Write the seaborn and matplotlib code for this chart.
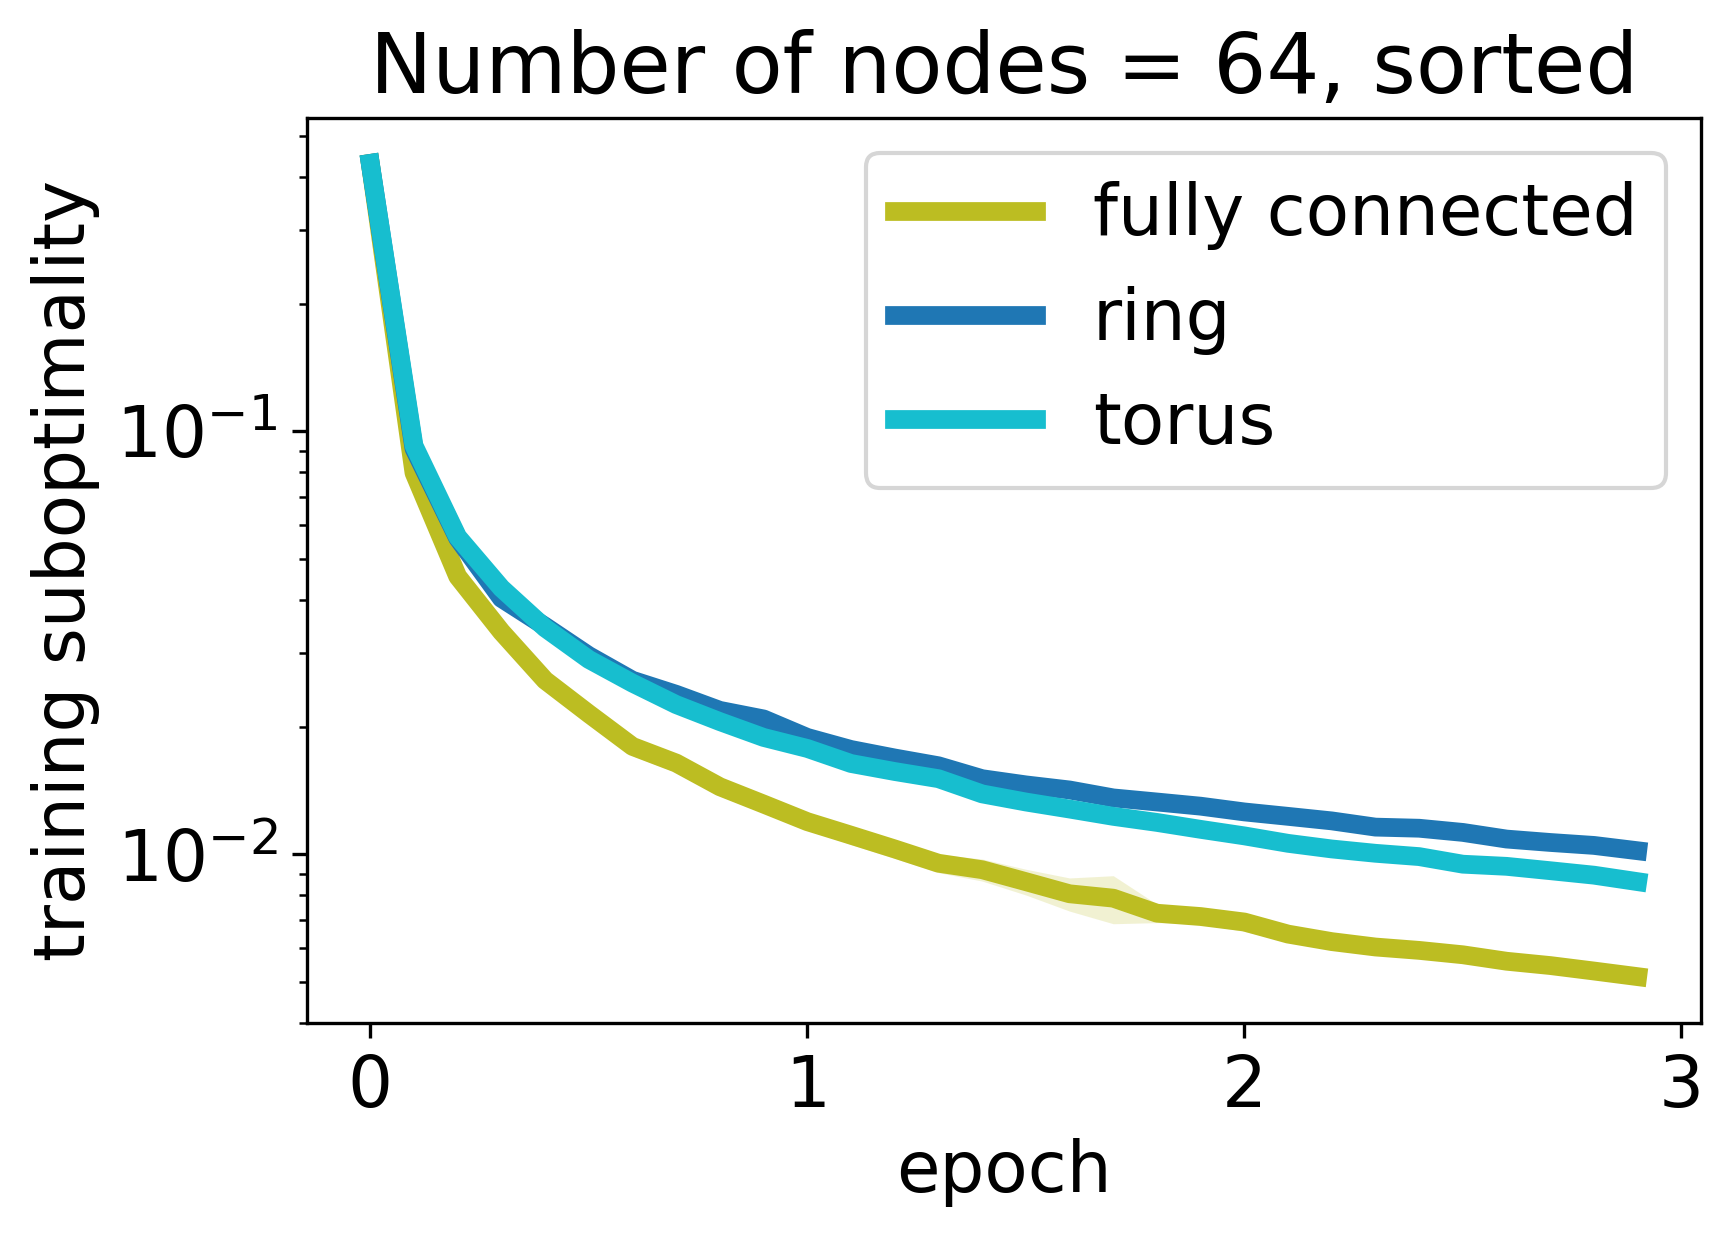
import numpy as np
import pandas as pd
import seaborn as sns
import matplotlib
matplotlib.use("Agg")
import matplotlib.pyplot as plt

# epochs (one point every 0.1 epoch)
epoch = [round(0.1 * i, 1) for i in range(30)]

# mean training suboptimality per topology
fully_connected = [0.43, 0.0798, 0.0454, 0.0336, 0.0258, 0.0215, 0.0180, 0.01644, 0.01445, 0.01315,
                   0.01195, 0.0111, 0.0103, 0.00953, 0.0092, 0.00862, 0.00807, 0.00788, 0.00726, 0.00713,
                   0.00692, 0.00648, 0.00622, 0.00604, 0.00593, 0.00579, 0.00559, 0.00546, 0.0053, 0.00514]
ring = [0.43, 0.091, 0.0559, 0.0403, 0.0346, 0.0295, 0.0258, 0.0239, 0.0219, 0.0209,
        0.0189, 0.0177, 0.0169, 0.0162, 0.0151, 0.0146, 0.0142, 0.0136, 0.0133, 0.0130,
        0.0126, 0.0123, 0.0120, 0.0116, 0.01153, 0.01127, 0.01087, 0.01067, 0.0105, 0.0102]
torus = [0.43, 0.0925, 0.0563, 0.0426, 0.0343, 0.0289, 0.0254, 0.0226, 0.0206, 0.0189,
         0.0178, 0.0164, 0.0157, 0.0151, 0.0139, 0.0133, 0.0128, 0.0123, 0.0119, 0.01146,
         0.01106, 0.01062, 0.0103, 0.01006, 0.00988, 0.00948, 0.00937, 0.00915, 0.00893, 0.00862]

# relative spread of the shaded band around each mean
fc_spread = [0.0, 0.03, 0.05, 0.06, 0.05, 0.05, 0.05, 0.05, 0.05, 0.04,
             0.04, 0.05, 0.05, 0.05, 0.06, 0.07, 0.09, 0.13, 0.05, 0.04,
             0.05, 0.04, 0.04, 0.04, 0.04, 0.04, 0.04, 0.04, 0.04, 0.03]
ring_spread = 0.025
torus_spread = 0.025

labels = ["fully connected", "ring", "torus"]
colors = ["tab:olive", "tab:blue", "tab:cyan"]

df = pd.DataFrame({
    "epoch": epoch * 3,
    "value": fully_connected + ring + torus,
    "topology": [l for l in labels for _ in epoch],
})

fig, ax = plt.subplots(figsize=(1734 / 300, 1239 / 300), dpi=300)
fig.subplots_adjust(left=0.177, right=0.981, top=0.905, bottom=0.174)

sns.lineplot(data=df, x="epoch", y="value", hue="topology", hue_order=labels,
             palette=colors, lw=4.5, ax=ax)

bands = [np.array(fc_spread), ring_spread, torus_spread]
for mean, spread, c in zip([fully_connected, ring, torus], bands, colors):
    mean = np.array(mean)
    ax.fill_between(epoch, mean * (1 - spread), mean * (1 + spread), color=c, alpha=0.2, lw=0)

ax.set_yscale("log")
ax.set_title("Number of nodes = 64, sorted", fontsize=20)
ax.set_xlabel("epoch", fontsize=17)
ax.set_ylabel("training suboptimality", fontsize=17)
ax.set_xticks([0, 1, 2, 3])
ax.tick_params(labelsize=17)
ax.legend(fontsize=17, loc="upper right")

fig.savefig("out.png", dpi=300)
